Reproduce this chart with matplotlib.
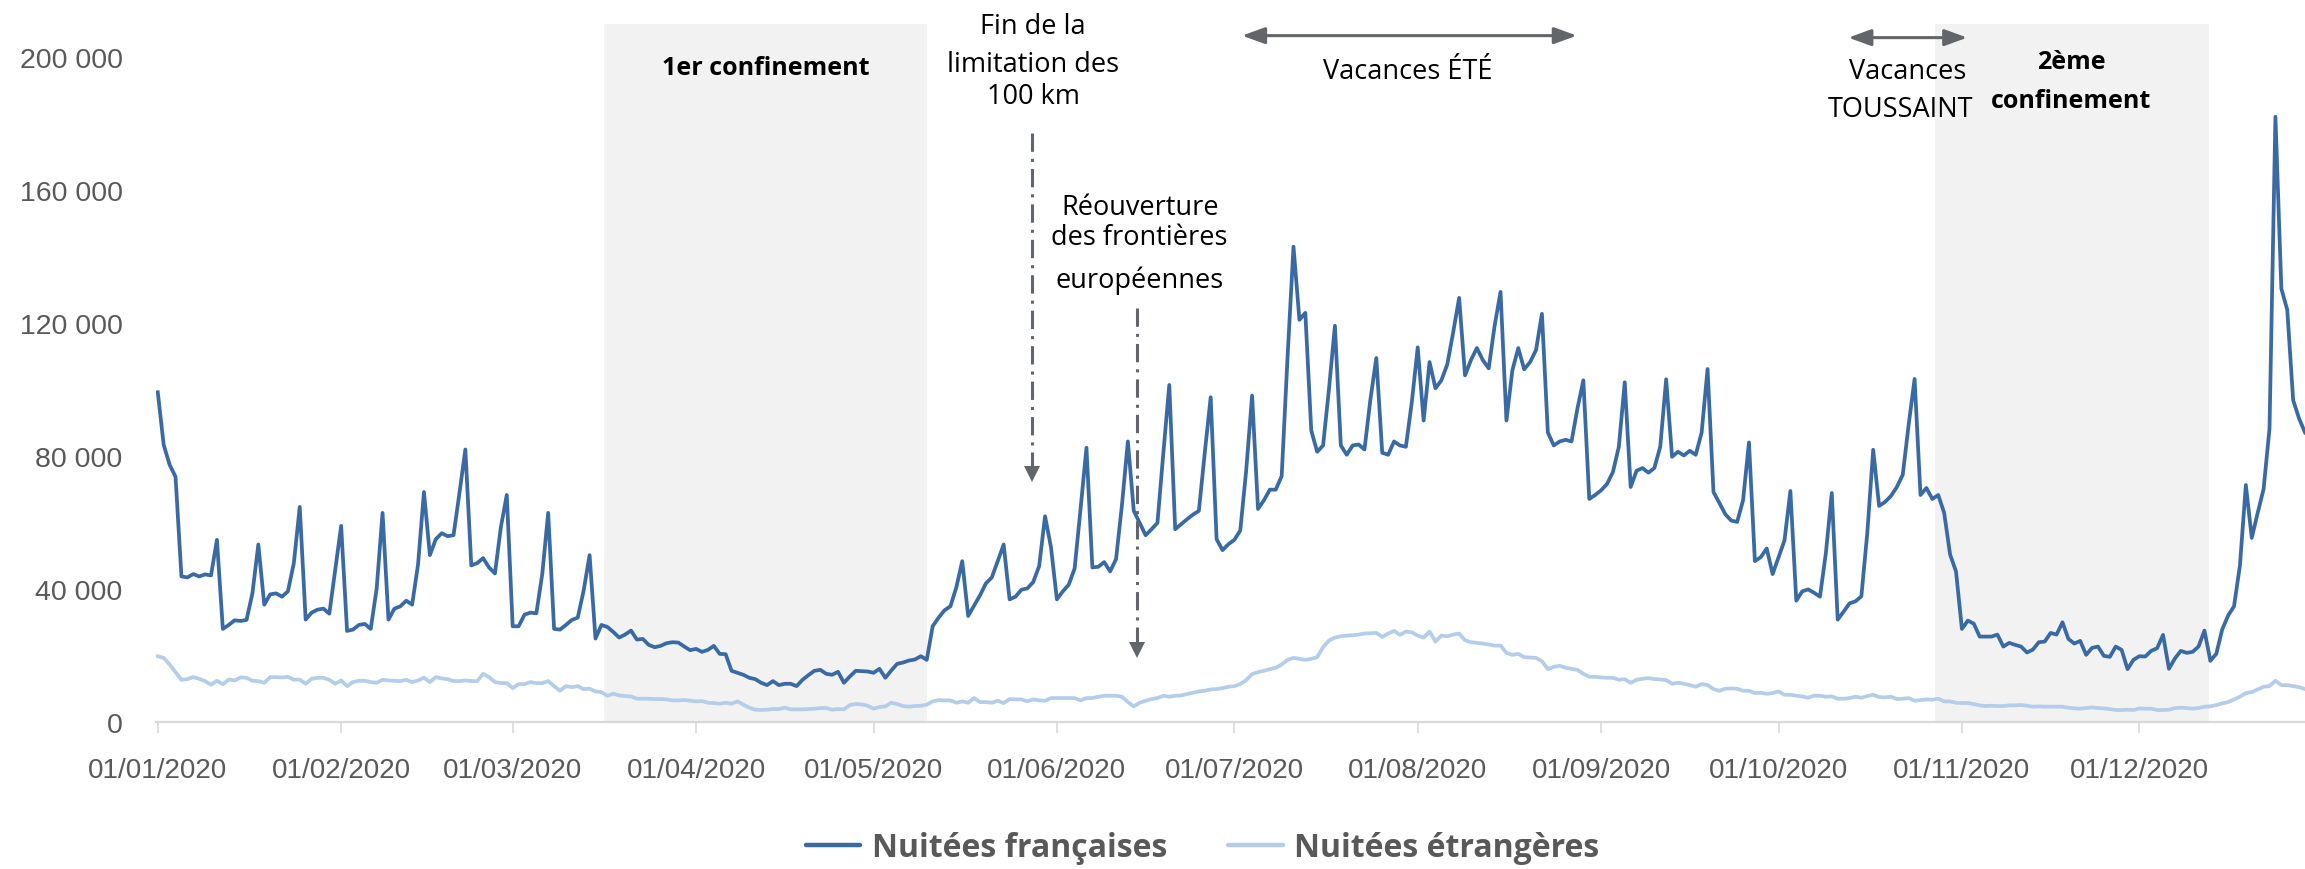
import numpy as np
import matplotlib
matplotlib.use('Agg')
import matplotlib.pyplot as plt
from matplotlib.ticker import FuncFormatter
from matplotlib.lines import Line2D

# ==========================================================
# DONNÉES (nuitées par jour, 2020)
# ==========================================================
nuitees_fr = [
    99200, 83400, 77400, 73800, 43800, 43500, 44500, 43800, 44400, 44100,
    54800, 28000, 29200, 30600, 30400, 30700, 38700, 53400, 35300, 38400,
    38700, 37700, 39300, 47800, 64700, 30800, 32900, 33800, 34100, 32600,
    45900, 59000, 27400, 27800, 29200, 29500, 28000, 40100, 62900, 30800,
    34100, 34800, 36500, 35300, 47400, 69200, 50200, 55000, 56800, 55900,
    56200, 68900, 82000, 47100, 47800, 49300, 46500, 44700, 58600, 68300,
    28800, 28800, 32300, 32900, 32700, 44500, 62900, 28000, 27800, 29200,
    30700, 31400, 39600, 50200, 25100, 29200, 28600, 27100, 25400, 26300,
    27500, 24800, 25000, 23200, 22500, 22900, 23700, 24000, 23900, 22700,
    21600, 22000, 21100, 21700, 22900, 20500, 20400, 15400, 14800, 14200,
    13300, 12900, 11800, 11100, 12300, 11100, 11500, 11500, 10800, 12700,
    14100, 15400, 15700, 14500, 14200, 15100, 11800, 13700, 15400, 15300,
    15200, 14800, 16000, 13300, 15500, 17500, 17900, 18500, 18800, 19800,
    18700, 28800, 31400, 33600, 34800, 40500, 48400, 31900, 35000, 38100,
    41700, 43500, 48400, 53400, 36900, 37700, 39800, 40200, 42100, 46900,
    61900, 52600, 36900, 39300, 41300, 46200, 64100, 82500, 46500, 46700,
    48100, 45300, 49000, 65300, 84400, 63500, 59900, 56200, 58000, 59900,
    81000, 101400, 58000, 59500, 61000, 62400, 63500, 81000, 97700, 55000,
    51700, 53500, 54800, 57600, 75600, 98200, 64100, 66700, 69900, 69900,
    74000, 110000, 143000, 121000, 123100, 87700, 81300, 83200, 100200, 119200,
    83200, 80400, 83200, 83500, 82000, 97000, 109500, 81000, 80400, 84400,
    83200, 82800, 96200, 112700, 90700, 108300, 100400, 102800, 107600, 117300,
    127600, 104300, 108900, 112500, 108900, 106400, 119200, 129400, 90700, 105800,
    112500, 106100, 108300, 111900, 122800, 87100, 83200, 84400, 84900, 84400,
    94300, 102800, 67100, 68300, 69700, 71600, 75200, 82800, 102200, 70700,
    75600, 76400, 75000, 76400, 82800, 103100, 79800, 81300, 80200, 81600,
    80400, 87100, 106200, 69200, 65900, 62500, 60600, 60200, 66700, 84100,
    48400, 49600, 52200, 44500, 49600, 54600, 69500, 36500, 39300, 39900,
    38900, 37700, 50800, 68900, 30800, 33200, 35700, 36300, 37800, 56800,
    81900, 65000, 66200, 68000, 70700, 74400, 89500, 103200, 68300, 70400,
    67100, 68300, 62900, 50400, 45300, 28000, 30500, 29600, 25700, 25700,
    25700, 26300, 22700, 23800, 23200, 22700, 20900, 21800, 24000, 24200,
    26800, 26300, 30000, 25000, 23600, 24400, 20200, 22300, 22700, 19900,
    19600, 22700, 21700, 15900, 18700, 19800, 19700, 21400, 22200, 26200,
    16000, 19100, 21400, 20800, 21100, 22700, 27500, 18400, 20500, 27800,
    32000, 34800, 47100, 71300, 55400, 62900, 70100, 88300, 182100, 130400,
    124000, 96800, 91300, 87100,
]

nuitees_etr = [
    19800, 19300, 17300, 15000, 12700, 12900, 13500, 13000, 12300, 11200,
    12400, 11300, 12800, 12500, 13400, 13300, 12400, 12300, 11800, 13500,
    13500, 13400, 13600, 12700, 12800, 11500, 13000, 13300, 13300, 12700,
    11500, 12500, 10800, 12000, 12400, 12400, 12000, 11800, 12700, 12500,
    12400, 12300, 12700, 12000, 12500, 13300, 12000, 13500, 13100, 12900,
    12300, 12300, 12500, 12300, 12300, 14500, 13500, 12000, 11700, 11700,
    10200, 11400, 11400, 12000, 11700, 11700, 12300, 10800, 9400, 10800,
    10500, 10800, 9900, 10000, 9200, 9000, 7900, 8500, 8000, 7800,
    7700, 7000, 7000, 7000, 6900, 6900, 6800, 6500, 6500, 6600,
    6400, 6200, 6300, 5800, 5700, 5500, 5800, 5500, 6200, 5200,
    4300, 3700, 3600, 3700, 3900, 3900, 4300, 3800, 3800, 3800,
    3900, 4000, 4200, 4200, 3700, 3900, 3800, 5100, 5400, 5300,
    4900, 4000, 4500, 4700, 5800, 5400, 4800, 4600, 4800, 4900,
    5200, 6200, 6600, 6500, 6500, 5800, 6200, 5800, 7200, 6000,
    6000, 5800, 6400, 5700, 6900, 6800, 6800, 6200, 6800, 6500,
    6400, 7200, 7200, 7200, 7200, 7200, 6500, 7200, 7200, 7600,
    7900, 7900, 7900, 7600, 6000, 4700, 5800, 6400, 6900, 7200,
    7900, 7600, 7900, 8000, 8400, 8800, 9200, 9400, 9800, 9900,
    10200, 10600, 10800, 11400, 12600, 14400, 15000, 15400, 15900, 16300,
    17300, 18700, 19300, 19000, 18700, 19000, 19500, 22500, 24500, 25400,
    25800, 26000, 26100, 26300, 26600, 26700, 26800, 25600, 26600, 27400,
    26200, 27200, 27000, 26000, 25400, 27200, 24200, 26000, 25800, 26300,
    26600, 24600, 24000, 23800, 23600, 23300, 23000, 23000, 20800, 20200,
    20500, 19500, 19400, 19300, 18300, 15900, 16600, 16900, 16300, 16000,
    15700, 14500, 13600, 13600, 13400, 13300, 13300, 12700, 12900, 11800,
    12700, 13000, 13200, 12900, 12800, 12600, 11500, 11800, 11500, 11100,
    10600, 11400, 11100, 9900, 9400, 10000, 10100, 10000, 9400, 9400,
    8700, 8800, 8500, 8700, 9200, 8200, 8200, 7900, 7700, 7300,
    7900, 7900, 7600, 7700, 7000, 7000, 7200, 7600, 7300, 7800,
    8200, 7500, 7400, 7600, 6900, 7000, 7200, 6400, 6600, 6800,
    6700, 7000, 6200, 6200, 5800, 5700, 5700, 5400, 5000, 4800,
    4900, 4800, 4800, 5000, 5000, 5100, 4900, 4600, 4700, 4600,
    4600, 4600, 4600, 4300, 4100, 4000, 4200, 4400, 4200, 4100,
    3900, 3600, 3600, 3700, 3600, 4100, 4000, 4000, 3600, 3600,
    3700, 4200, 4300, 4200, 4000, 4200, 4600, 4700, 5100, 5600,
    6000, 6800, 7600, 8700, 9000, 9800, 10600, 10800, 12400, 11100,
    11100, 10800, 10500, 9900,
]

# début de chaque mois (jour de l'année, 0 = 01/01/2020)
debut_mois = [0, 31, 60, 91, 121, 152, 182, 213, 244, 274, 305, 335]
etiquettes_mois = [f'01/{m:02d}/2020' for m in range(1, 13)]

# périodes de confinement (jours)
confinements = [(75.4, 130.1), (300.4, 346.7)]

# ==========================================================
# FIGURE
# ==========================================================
plt.rcParams['font.family'] = ['Open Sans', 'DejaVu Sans']

color_fr = '#3a6aa4'
color_etr = '#b5cde9'
color_gris = '#595959'
color_fleche = '#62666b'
police_axes = 'Liberation Sans'

fig = plt.figure(figsize=(23.05, 8.7), dpi=100)
ax = fig.add_axes([156 / 2305, 1 - 723 / 870, 1 - 156 / 2305, 698 / 870])

jours = np.arange(len(nuitees_fr))

for d0, d1 in confinements:
    ax.axvspan(d0, d1, color='#f2f2f2', lw=0, zorder=0)

ax.plot(jours, nuitees_etr, color=color_etr, linewidth=2.7, zorder=3)
ax.plot(jours, nuitees_fr, color=color_fr, linewidth=2.7, zorder=4)

ax.set_xlim(-0.3, 363)
ax.set_ylim(0, 210000)

# Axes
for s in ['top', 'right', 'left']:
    ax.spines[s].set_visible(False)
ax.spines['bottom'].set_color('#d9d9d9')
ax.spines['bottom'].set_linewidth(1.6)

ax.set_yticks(range(0, 200001, 40000))
ax.yaxis.set_major_formatter(FuncFormatter(lambda v, p: f'{int(v):,}'.replace(',', ' ')))
ax.tick_params(axis='y', length=0, pad=24, labelcolor=color_gris)

ax.set_xticks(debut_mois)
ax.set_xticklabels(etiquettes_mois)
ax.tick_params(axis='x', length=8, width=1.2, color='#d9d9d9', pad=17,
               labelcolor=color_gris)

for lab in ax.get_yticklabels():
    lab.set_fontfamily(police_axes)
    lab.set_fontsize(20.5)
for lab in ax.get_xticklabels():
    lab.set_fontfamily(police_axes)
    lab.set_fontsize(20)

# ==========================================================
# ANNOTATIONS
# ==========================================================
txt = dict(ha='center', va='center', fontsize=19.5, color='black')
gras = dict(ha='center', va='center', fontsize=18, color='black', fontweight='bold')

ax.text(102.7, 196900, '1er confinement', **gras)
ax.text(323.5, 198700, '2ème', **gras)
ax.text(323.5, 187000, 'confinement', **gras)

ax.text(148, 209500, 'Fin de la', **txt)
ax.text(148, 198000, 'limitation des', **txt)
ax.text(148, 188400, '100 km', **txt)

ax.text(166, 154900, 'Réouverture', **txt)
ax.text(166, 145800, 'des frontières', **txt)
ax.text(166, 133000, 'européennes', **txt)

ax.text(211.3, 196000, 'Vacances ÉTÉ', **txt)
ax.text(295.8, 196000, 'Vacances', **txt)
ax.text(294.6, 184500, 'TOUSSAINT', **txt)

# flèches pointillées (événements)
for x, y_haut, y_pointe in [(147.8, 177300, 74500), (165.5, 124600, 21700)]:
    ax.plot([x, x], [y_haut, y_pointe + 2500], color=color_fleche, linewidth=2.2,
            linestyle=(0, (6, 2.3, 1, 2.3)), zorder=5)
    ax.plot([x], [y_pointe], marker='v', markersize=12, color=color_fleche,
            markeredgewidth=0, zorder=5)

# flèches doubles (vacances)
for d0, d1, y in [(183.3, 239.9, 206500), (285.8, 305.9, 205900)]:
    ax.annotate('', xy=(d1, y), xytext=(d0, y),
                arrowprops=dict(arrowstyle='<|-|>,head_length=0.55,head_width=0.2',
                                color=color_fleche, lw=2.2, mutation_scale=25,
                                shrinkA=0, shrinkB=0))

# ==========================================================
# LÉGENDE
# ==========================================================
handles = [Line2D([0], [0], color=color_fr, linewidth=3.2, solid_capstyle='round'),
           Line2D([0], [0], color=color_etr, linewidth=3.2, solid_capstyle='round')]
fig.legend(handles, ['Nuitées françaises', 'Nuitées étrangères'],
           loc='center', bbox_to_anchor=(0.5216, 0.025), ncol=2, frameon=False,
           prop={'weight': 'bold', 'size': 23}, labelcolor=color_gris,
           handlelength=1.72, handletextpad=0.35, columnspacing=1.9)

fig.savefig('out.png', dpi=100)
